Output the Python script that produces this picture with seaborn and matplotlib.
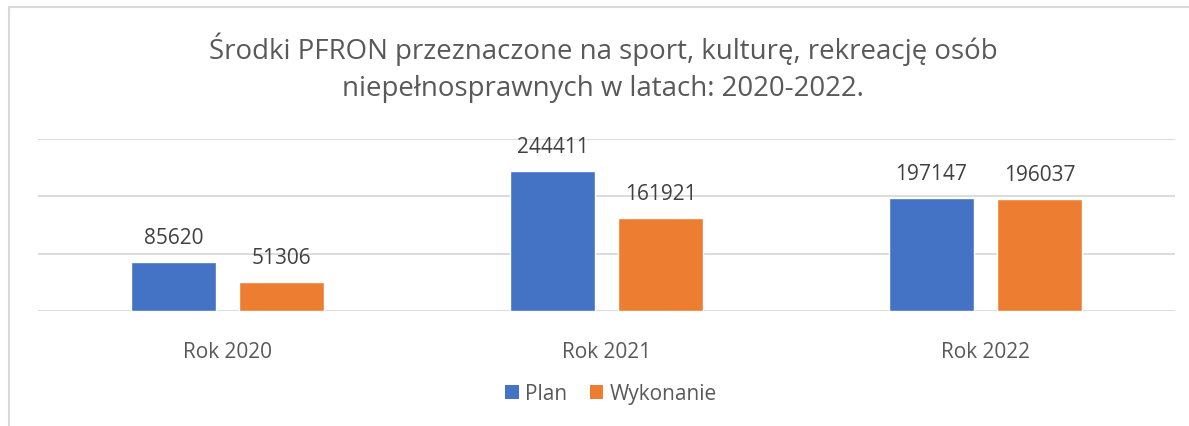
import matplotlib
matplotlib.use("Agg")
import matplotlib.pyplot as plt
from matplotlib.lines import Line2D
from matplotlib.patches import Patch
import seaborn as sns
import pandas as pd

# data
years = ["Rok 2020", "Rok 2021", "Rok 2022"]
plan = [85620, 244411, 197147]
wykonanie = [51306, 161921, 196037]
series_names = ["Plan", "Wykonanie"]
colors = ["#4472C4", "#ED7D31"]
title = "Środki PFRON przeznaczone na sport, kulturę, rekreację osób\nniepełnosprawnych w latach: 2020-2022."

df = pd.DataFrame({
    "rok": years * 2,
    "seria": [series_names[0]] * 3 + [series_names[1]] * 3,
    "kwota": plan + wykonanie,
})

sns.set_style("white")
plt.rcParams["font.family"] = ["Open Sans", "DejaVu Sans"]

fig = plt.figure(figsize=(11.89, 4.27), dpi=100)
ax = fig.add_axes([38 / 1189, 1 - 312 / 427, (1175 - 38) / 1189, (312 - 140) / 427])

sns.barplot(data=df, x="rok", y="kwota", hue="seria", palette=colors,
            width=0.57, gap=0.21, saturation=1, ax=ax, legend=False)

ax.set_ylim(0, 300000)
ax.set_xlim(-0.5, 2.5)
ax.set_yticks([0, 100000, 200000, 300000])
ax.yaxis.grid(True, color="#D9D9D9", linewidth=1.3)
ax.set_axisbelow(True)
ax.tick_params(axis="y", left=False, labelleft=False)
ax.tick_params(axis="x", bottom=False, labelsize=15, labelcolor="#595959", pad=18)
for s in ax.spines.values():
    s.set_visible(False)
ax.set_xlabel("")
ax.set_ylabel("")

for cont in ax.containers:
    ax.bar_label(cont, fmt="%d", padding=10, fontsize=15, color="#404040")

fig.text(0.507, 1 - 68 / 427, title, ha="center", va="center", fontsize=19.9,
         color="#595959", linespacing=1.45)

handles = [Patch(facecolor=c, edgecolor="none") for c in colors]
fig.legend(handles, series_names, loc="center", bbox_to_anchor=(611 / 1189, 1 - 395 / 427),
           ncol=2, frameon=False, fontsize=15, labelcolor="#595959",
           handlelength=0.65, handleheight=0.65, handletextpad=0.3, columnspacing=1.1)

# light chart frame (top and left edges visible in the crop)
fig.add_artist(Line2D([9 / 1189, 9 / 1189], [0, 1 - 8 / 427], color="#D9D9D9", linewidth=1.5))
fig.add_artist(Line2D([9 / 1189, 1], [1 - 8 / 427, 1 - 8 / 427], color="#D9D9D9", linewidth=1.5))

fig.savefig("out.png", dpi=100)
